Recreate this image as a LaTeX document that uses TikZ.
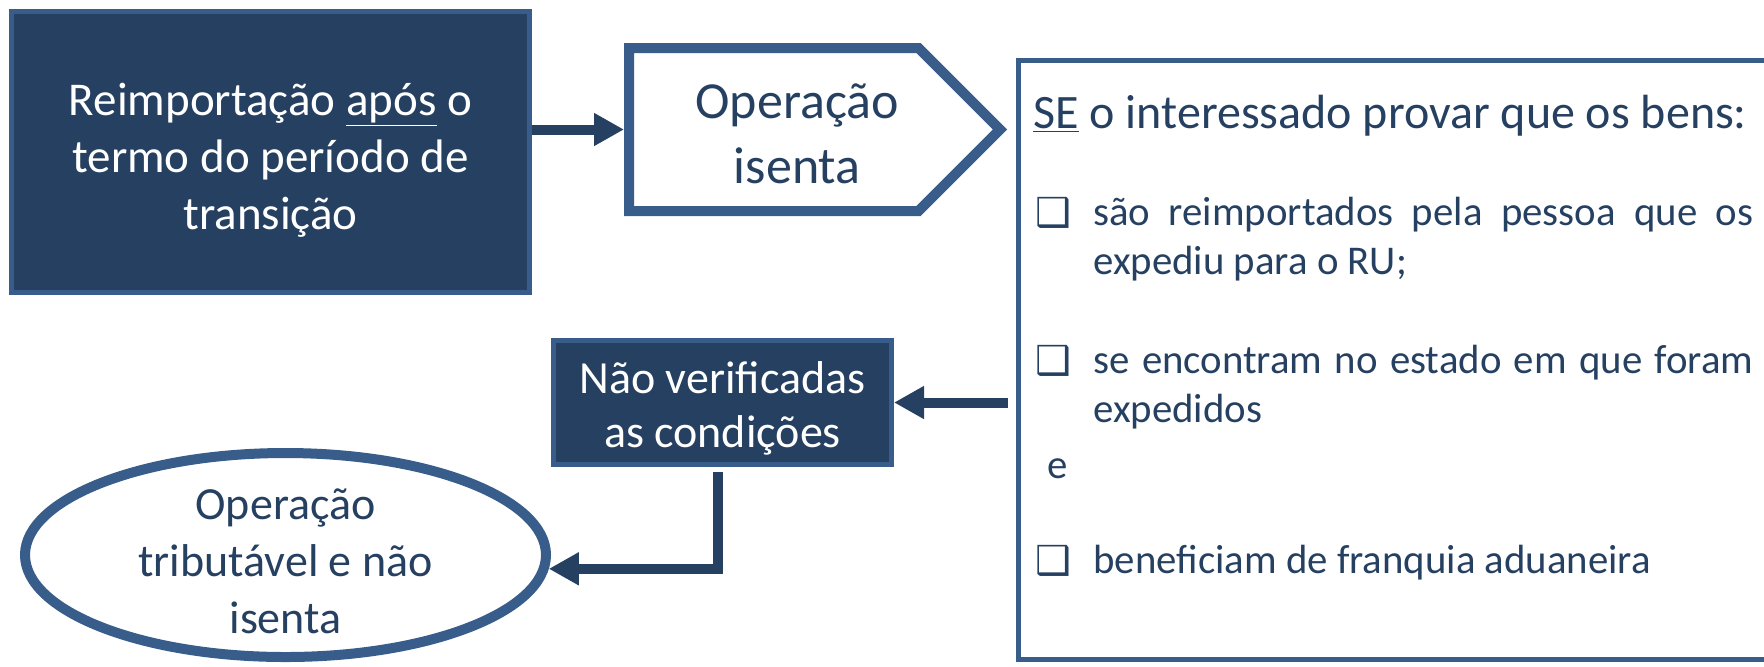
\documentclass[tikz,border=0pt]{standalone}
\usepackage{fontspec}
\setmainfont{Carlito}
\newfontfamily\symfont{DejaVu Sans}
\usetikzlibrary{shapes,arrows.meta,positioning}

\definecolor{navy}{RGB}{38,64,97}
\definecolor{frame}{RGB}{56,93,138}

\begin{document}
\begin{tikzpicture}[->,>={Triangle[length=15pt,width=15.5pt]},x=0.5pt,y=-0.5pt,
  dark node/.style={rectangle,draw=frame,fill=navy,line width=2.5pt,text=white,align=center,inner sep=0pt},
  light node/.style={draw=frame,fill=white,line width=5pt,text=navy,align=center,inner sep=0pt},
  list text/.style={anchor=base west,inner sep=0pt,text=navy,font=\fontsize{20.4}{24.5}\selectfont},
  tick box/.style={anchor=base,inner sep=0pt,text=navy,font=\symfont\fontsize{20}{24}\selectfont},
  link/.style={draw=navy,line width=5pt}]

  \useasboundingbox (0,0) rectangle (1764,666);

  \node[dark node,minimum width=259pt,minimum height=140.5pt,font=\fontsize{23.5}{28.5}\selectfont] (1) at (270.5,152)
    {\rule{0pt}{24pt}Reimportação \underline{após} o\\termo do período de\\transição};
  \node[light node,signal,signal to=east,signal pointer angle=90,minimum width=185.5pt,minimum height=81.5pt,
    font=\fontsize{26}{32.5}\selectfont] (2) [right=46pt of 1,yshift=11.25pt]
    {\hspace*{23.5pt}\rule{0pt}{21.5pt}Operação\\\hspace*{23.5pt}isenta};
  \node[rectangle,draw=frame,line width=2.5pt,minimum width=385.75pt,minimum height=299.5pt] (3) at (1404.25,360) {};
  \node[dark node,minimum width=169pt,minimum height=62pt,font=\fontsize{23}{27}\selectfont] (4) at (722.5,402.5)
    {\rule{0pt}{22pt}Não verificadas\\as condições};
  \node[light node,ellipse,inner ysep=-5pt,minimum width=260.5pt,minimum height=102pt,font=\fontsize{23}{28.5}\selectfont] (5) at (285.5,555)
    {\rule{0pt}{22pt}Operação\\tributável e não\\isenta};

  % what the box asks for
  \node[list text,font=\fontsize{24}{29}\selectfont] (se) at (1033,128) {\underline{SE} o interessado provar que os bens:};
  \node[tick box] (b1) at (1053,226) {❑};
  \node[list text,text width=330pt,align=justify] (t1) at (1093,225) {são reimportados pela pessoa que os\linebreak expediu para o RU;};
  \node[tick box] (b2) at (1053,374) {❑};
  \node[list text,text width=330pt,align=justify] (t2) at (1093,373) {se encontram no estado em que foram expedidos};
  \node[list text] (e) at (1047,478) {e};
  \node[tick box] (b3) at (1053,574) {❑};
  \node[list text] (t3) at (1093,573) {beneficiam de franquia aduaneira};

  \draw[link] (1.east |- 2.west) -- (2.west);
  \draw[link,shorten <=4pt] (3.west |- 4.east) -- (4.east);
  \draw[link,shorten <=2.5pt] ([xshift=-2.5pt]4.south) |- (5.-3.5);
\end{tikzpicture}
\end{document}
